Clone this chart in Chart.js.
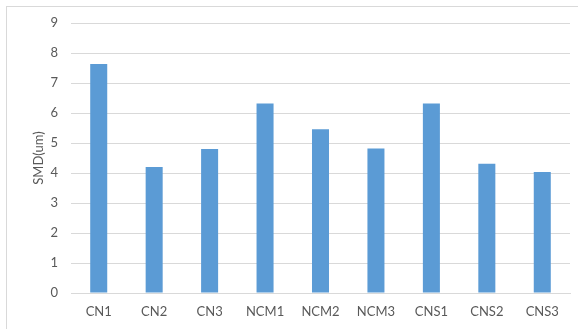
<!DOCTYPE html>
<html>
<head>
<meta charset="utf-8">
<script src="https://cdn.jsdelivr.net/npm/chart.js@4/dist/chart.umd.min.js"></script>
<style>
  html, body { margin: 0; padding: 0; background: #fff; }
  #wrap { width: 578px; height: 329px; position: relative; }
</style>
</head>
<body>
<div id="wrap"><canvas id="c" width="578" height="329"></canvas></div>
<script>
// Sauter mean diameter per sample
const categories = ['CN1', 'CN2', 'CN3', 'NCM1', 'NCM2', 'NCM3', 'CNS1', 'CNS2', 'CNS3'];
const smdValues = [7.63, 4.2, 4.8, 6.32, 5.46, 4.82, 6.32, 4.31, 4.03];
const yTicks = [0, 1, 2, 3, 4, 5, 6, 7, 8, 9];

const gridColor = '#d9d9d9';
const textColor = '#595959';
const fontFamily = "'Lato', 'Liberation Sans', sans-serif";

// light frame around the chart area
const framePlugin = {
  id: 'frame',
  beforeDraw(chart) {
    const ctx = chart.ctx;
    ctx.save();
    ctx.strokeStyle = gridColor;
    ctx.lineWidth = 1;
    ctx.strokeRect(6.5, 6.5, 600, 400);
    ctx.restore();
  }
};

new Chart(document.getElementById('c'), {
  type: 'bar',
  data: {
    labels: categories,
    datasets: [{
      label: 'SMD(um)',
      data: smdValues,
      backgroundColor: '#5b9bd5',
      borderWidth: 0,
      barPercentage: 0.307,
      categoryPercentage: 1.0
    }]
  },
  options: {
    responsive: false,
    animation: false,
    devicePixelRatio: 1,
    layout: { padding: { left: 0, top: 23, right: 8, bottom: 0 } },
    plugins: {
      legend: { display: false },
      tooltip: { enabled: false }
    },
    scales: {
      x: {
        grid: { display: false, drawTicks: false },
        border: { display: true, color: gridColor, width: 1 },
        ticks: { color: textColor, font: { family: fontFamily, size: 13 }, padding: 11, maxRotation: 0 },
        afterFit(scale) { scale.height = 36; }
      },
      y: {
        min: 0,
        max: 9,
        afterBuildTicks(scale) { scale.ticks = yTicks.map(v => ({ value: v })); },
        grid: { color: gridColor, lineWidth: 1, drawTicks: false },
        border: { display: false },
        ticks: { color: textColor, font: { family: fontFamily, size: 13 }, padding: 13 },
        title: {
          display: true,
          text: 'SMD(um)',
          color: textColor,
          font: { family: fontFamily, size: 13 },
          padding: { top: 31, bottom: 0 }
        },
        afterFit(scale) { scale.width = 71; }
      }
    }
  },
  plugins: [framePlugin]
});
</script>
</body>
</html>
